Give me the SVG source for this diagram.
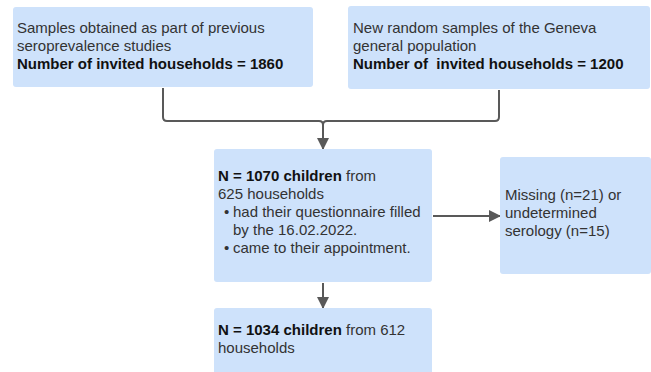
<svg xmlns="http://www.w3.org/2000/svg" width="651" height="372" viewBox="0 0 651 372">
<defs>
<style>
.box{fill:#cee2fb;}
.t{font-family:"Liberation Sans",Arial,sans-serif;font-size:15px;fill:#333333;}
.b{font-weight:bold;fill:#111111;}
.c{fill:none;stroke:#595959;stroke-width:2;}
</style>
<marker id="ah" markerWidth="12" markerHeight="12" refX="11" refY="6" orient="auto" markerUnits="userSpaceOnUse">
<path d="M0,0 L12,6 L0,12 z" fill="#595959"/>
</marker>
</defs>
<rect width="651" height="372" fill="#ffffff"/>
<g id="connectors">
<path class="c" d="M163,88 V117 Q163,121 167,121 H319 Q323,121 323,125"/>
<path class="c" d="M499,90 V117 Q499,121 495,121 H327 Q323,121 323,125"/>
<path class="c" d="M323,124 V149" marker-end="url(#ah)"/>
<path class="c" d="M433,216 H500" marker-end="url(#ah)"/>
<path class="c" d="M323,283 V308" marker-end="url(#ah)"/>
</g>
<g id="n1">
<rect class="box" x="13" y="7" width="300" height="80" rx="3"/>
<text class="t" x="17" y="33">Samples obtained as part of previous</text>
<text class="t" x="17" y="51">seroprevalence studies</text>
<text class="t b" x="17" y="69">Number of invited households = 1860</text>
</g>
<g id="n2">
<rect class="box" x="348" y="6" width="302" height="83" rx="3"/>
<text class="t" x="353" y="33">New random samples of the Geneva</text>
<text class="t" x="353" y="51">general population</text>
<text class="t b" x="353" y="69" xml:space="preserve">Number of  invited households = 1200</text>
</g>
<g id="n3">
<rect class="box" x="214" y="149" width="218" height="133" rx="3"/>
<text class="t" x="218" y="181"><tspan class="b">N = 1070 children</tspan> from</text>
<text class="t" x="218" y="199">625 households</text>
<text class="t" x="224" y="217">•</text>
<text class="t" x="233" y="217">had their questionnaire filled</text>
<text class="t" x="233" y="235">by the 16.02.2022.</text>
<text class="t" x="224" y="253">•</text>
<text class="t" x="233" y="253">came to their appointment.</text>
</g>
<g id="n4">
<rect class="box" x="500" y="157" width="151" height="117" rx="3"/>
<text class="t" x="505" y="200">Missing (n=21) or</text>
<text class="t" x="505" y="218">undetermined</text>
<text class="t" x="505" y="236">serology (n=15)</text>
</g>
<g id="n5">
<rect class="box" x="214" y="308" width="218" height="70" rx="3"/>
<text class="t" x="218" y="335"><tspan class="b">N = 1034 children</tspan> from 612</text>
<text class="t" x="218" y="353">households</text>
</g>
</svg>
